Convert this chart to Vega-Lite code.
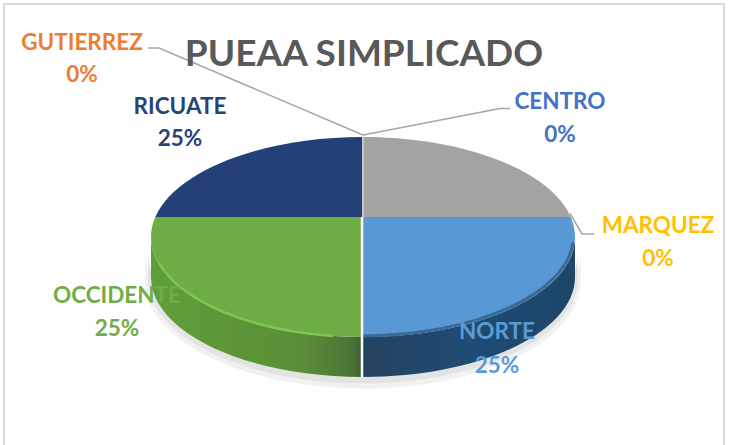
{
"$schema":"https://vega.github.io/schema/vega-lite/v6.json",
"width":746,"height":445,"padding":0,"autosize":{"type":"none"},"background":"white",
"config":{"view":{"stroke":null}},
"title":{"text":"PUEAA SIMPLICADO","font":"Lato","fontSize":37,"fontWeight":"bold","color":"#595959","anchor":"middle","frame":"group","baseline":"alphabetic","offset":0,"dx":-9,"dy":103},
"data":{"values":[
{"orden":1,"categoria":"GUTIERREZ","pct":0},
{"orden":2,"categoria":"CENTRO","pct":0},
{"orden":3,"categoria":"MARQUEZ","pct":0},
{"orden":4,"categoria":"RICUATE","pct":0.25},
{"orden":5,"categoria":"NORTE","pct":0.25},
{"orden":6,"categoria":"OCCIDENTE","pct":0.25},
{"orden":7,"categoria":"SIN ETIQUETA","pct":0.25}
]},
"layer":[
{"data":{"values":[{"elemento":"marco"}]},
 "mark":{"type":"point","filled":false,"opacity":1,"size":4,"stroke":"#d9d9d9","strokeWidth":2,"shape":"M-369,223 V-218.5 H351 V223"}},
{"transform":[{"filter":"datum.categoria==='NORTE'"}],
 "mark":{"type":"point","filled":true,"opacity":1,"size":4,"fill":"#f1f1f1","strokeWidth":0,"shape":"M-228,30 A218,106 0 0 0 208,30 L208,58 A218,108 0 0 1 -228,58 Z"}},
{"transform":[{"filter":"datum.categoria==='NORTE'"}],
 "mark":{"type":"point","filled":true,"opacity":1,"size":4,"fill":"#e3e3e3","strokeWidth":0,"shape":"M-225,30 A215,103 0 0 0 205,30 L205,56 A215,105 0 0 1 -225,56 Z"}},
{"transform":[{"filter":"datum.categoria==='OCCIDENTE'"}],
 "mark":{"type":"point","filled":true,"opacity":1,"size":4,"strokeWidth":0,
  "fill":{"x1":0,"y1":0,"x2":1,"y2":0,"gradient":"linear","stops":[{"offset":0,"color":"#5f9f3a"},{"offset":0.7,"color":"#5a8f36"},{"offset":0.95,"color":"#4a7438"},{"offset":1,"color":"#3c5c3a"}]},
  "shape":"M-222,14.5 A212,100 0 0 0 -10,114.5 L-10,154.5 A212,100 0 0 1 -222,54.5 Z"}},
{"transform":[{"filter":"datum.categoria==='NORTE'"}],
 "mark":{"type":"point","filled":true,"opacity":1,"size":4,"strokeWidth":0,
  "fill":{"x1":0,"y1":0,"x2":1,"y2":0,"gradient":"linear","stops":[{"offset":0,"color":"#25435f"},{"offset":0.5,"color":"#1f4c75"},{"offset":1,"color":"#1d4668"}]},
  "shape":"M-10,114.5 A212,100 0 0 0 202,14.5 L202,54.5 A212,100 0 0 1 -10,154.5 Z"}},
{"transform":[{"filter":"datum.categoria!=='GUTIERREZ' && datum.pct>0"}],
 "mark":{"type":"point","filled":true,"opacity":1,"size":4,"strokeWidth":0},
 "encoding":{
  "shape":{"field":"categoria","type":"nominal","legend":null,"scale":{"domain":["RICUATE","NORTE","OCCIDENTE","SIN ETIQUETA"],"range":[
   "M-10,-5.5 L-217.7,-5.5 A212,100 0 0 1 -10,-85.5 Z",
   "M-10,-5.5 L197.7,-5.5 A212,100 0 0 1 -10,114.5 Z",
   "M-10,-5.5 L-10,114.5 A212,100 0 0 1 -217.7,-5.5 Z",
   "M-10,-5.5 L-10,-85.5 A212,100 0 0 1 197.7,-5.5 Z"]}},
  "color":{"field":"categoria","type":"nominal","legend":null,"scale":{"domain":["RICUATE","NORTE","OCCIDENTE","SIN ETIQUETA"],"range":["#234078","#5898d4","#6eac45","#a3a3a3"]}}
 }},
{"transform":[{"filter":"datum.categoria==='OCCIDENTE'"}],
 "mark":{"type":"point","filled":false,"opacity":1,"size":4,"stroke":"#7cc855","strokeWidth":2.5,"shape":"M-214,40 A212,100 0 0 0 -40,113.5"}},
{"transform":[{"filter":"datum.categoria==='NORTE'"}],
 "mark":{"type":"point","filled":false,"opacity":1,"size":4,"stroke":"#3a6a96","strokeWidth":3,"shape":"M-10,113.5 A212,100 0 0 0 200,20"}},
{"transform":[{"filter":"datum.categoria==='NORTE'"}],
 "mark":{"type":"point","filled":false,"opacity":1,"size":4,"stroke":"#ffffff","strokeWidth":2.5,"shape":"M-11,-5.5 V154.5"}},
{"transform":[{"filter":"datum.categoria==='SIN ETIQUETA'"}],
 "mark":{"type":"point","filled":false,"opacity":1,"size":4,"stroke":"#c9c9c9","strokeWidth":2,"shape":"M-10,-85.5 V-5.5"}},
{"transform":[{"filter":"datum.pct===0"}],
 "mark":{"type":"point","filled":false,"opacity":1,"size":4,"stroke":"#a6a6a6","strokeWidth":1.5},
 "encoding":{
  "shape":{"field":"categoria","type":"nominal","legend":null,"scale":{"domain":["GUTIERREZ","CENTRO","MARQUEZ"],"range":[
   "M-225,-174.5 L-214,-174.5 L-10,-87.5",
   "M-10,-87.5 L127,-114 L137,-114",
   "M197,-9 L209,11.5 L221,11.5"]}}
 }},
{"transform":[{"filter":"datum.orden<7"}],
 "mark":{"type":"text","font":"Lato","fontSize":22.5,"fontWeight":"bold","align":"center","baseline":"middle"},
 "encoding":{
  "x":{"field":"orden","type":"quantitative","axis":null,"scale":{"domain":[1,2,3,4,5,6],"range":[82,560,658,180,497,117],"zero":false,"nice":false}},
  "y":{"field":"orden","type":"quantitative","axis":null,"scale":{"domain":[1,2,3,4,5,6],"range":[43,102,226,107,332,296],"zero":false,"nice":false}},
  "text":{"field":"categoria"},
  "color":{"field":"categoria","type":"nominal","legend":null,"scale":{"domain":["GUTIERREZ","CENTRO","MARQUEZ","RICUATE","NORTE","OCCIDENTE"],"range":["#ed7d31","#4472c4","#ffc000","#264478","#5b9bd5","#70ad47"]}}
 }},
{"transform":[{"filter":"datum.orden<7"}],
 "mark":{"type":"text","font":"Lato","fontSize":22.5,"fontWeight":"bold","align":"center","baseline":"middle"},
 "encoding":{
  "x":{"field":"orden","type":"quantitative","axis":null,"scale":{"domain":[1,2,3,4,5,6],"range":[82,560,658,180,497,117],"zero":false,"nice":false}},
  "y":{"field":"orden","type":"quantitative","axis":null,"scale":{"domain":[1,2,3,4,5,6],"range":[75,135,259,139,366,329],"zero":false,"nice":false}},
  "text":{"field":"pct","type":"quantitative","format":".0%"},
  "color":{"field":"categoria","type":"nominal","legend":null,"scale":{"domain":["GUTIERREZ","CENTRO","MARQUEZ","RICUATE","NORTE","OCCIDENTE"],"range":["#ed7d31","#4472c4","#ffc000","#264478","#5b9bd5","#70ad47"]}}
 }}
],
"resolve":{"scale":{"y":"independent","color":"independent","shape":"independent"}}
}
